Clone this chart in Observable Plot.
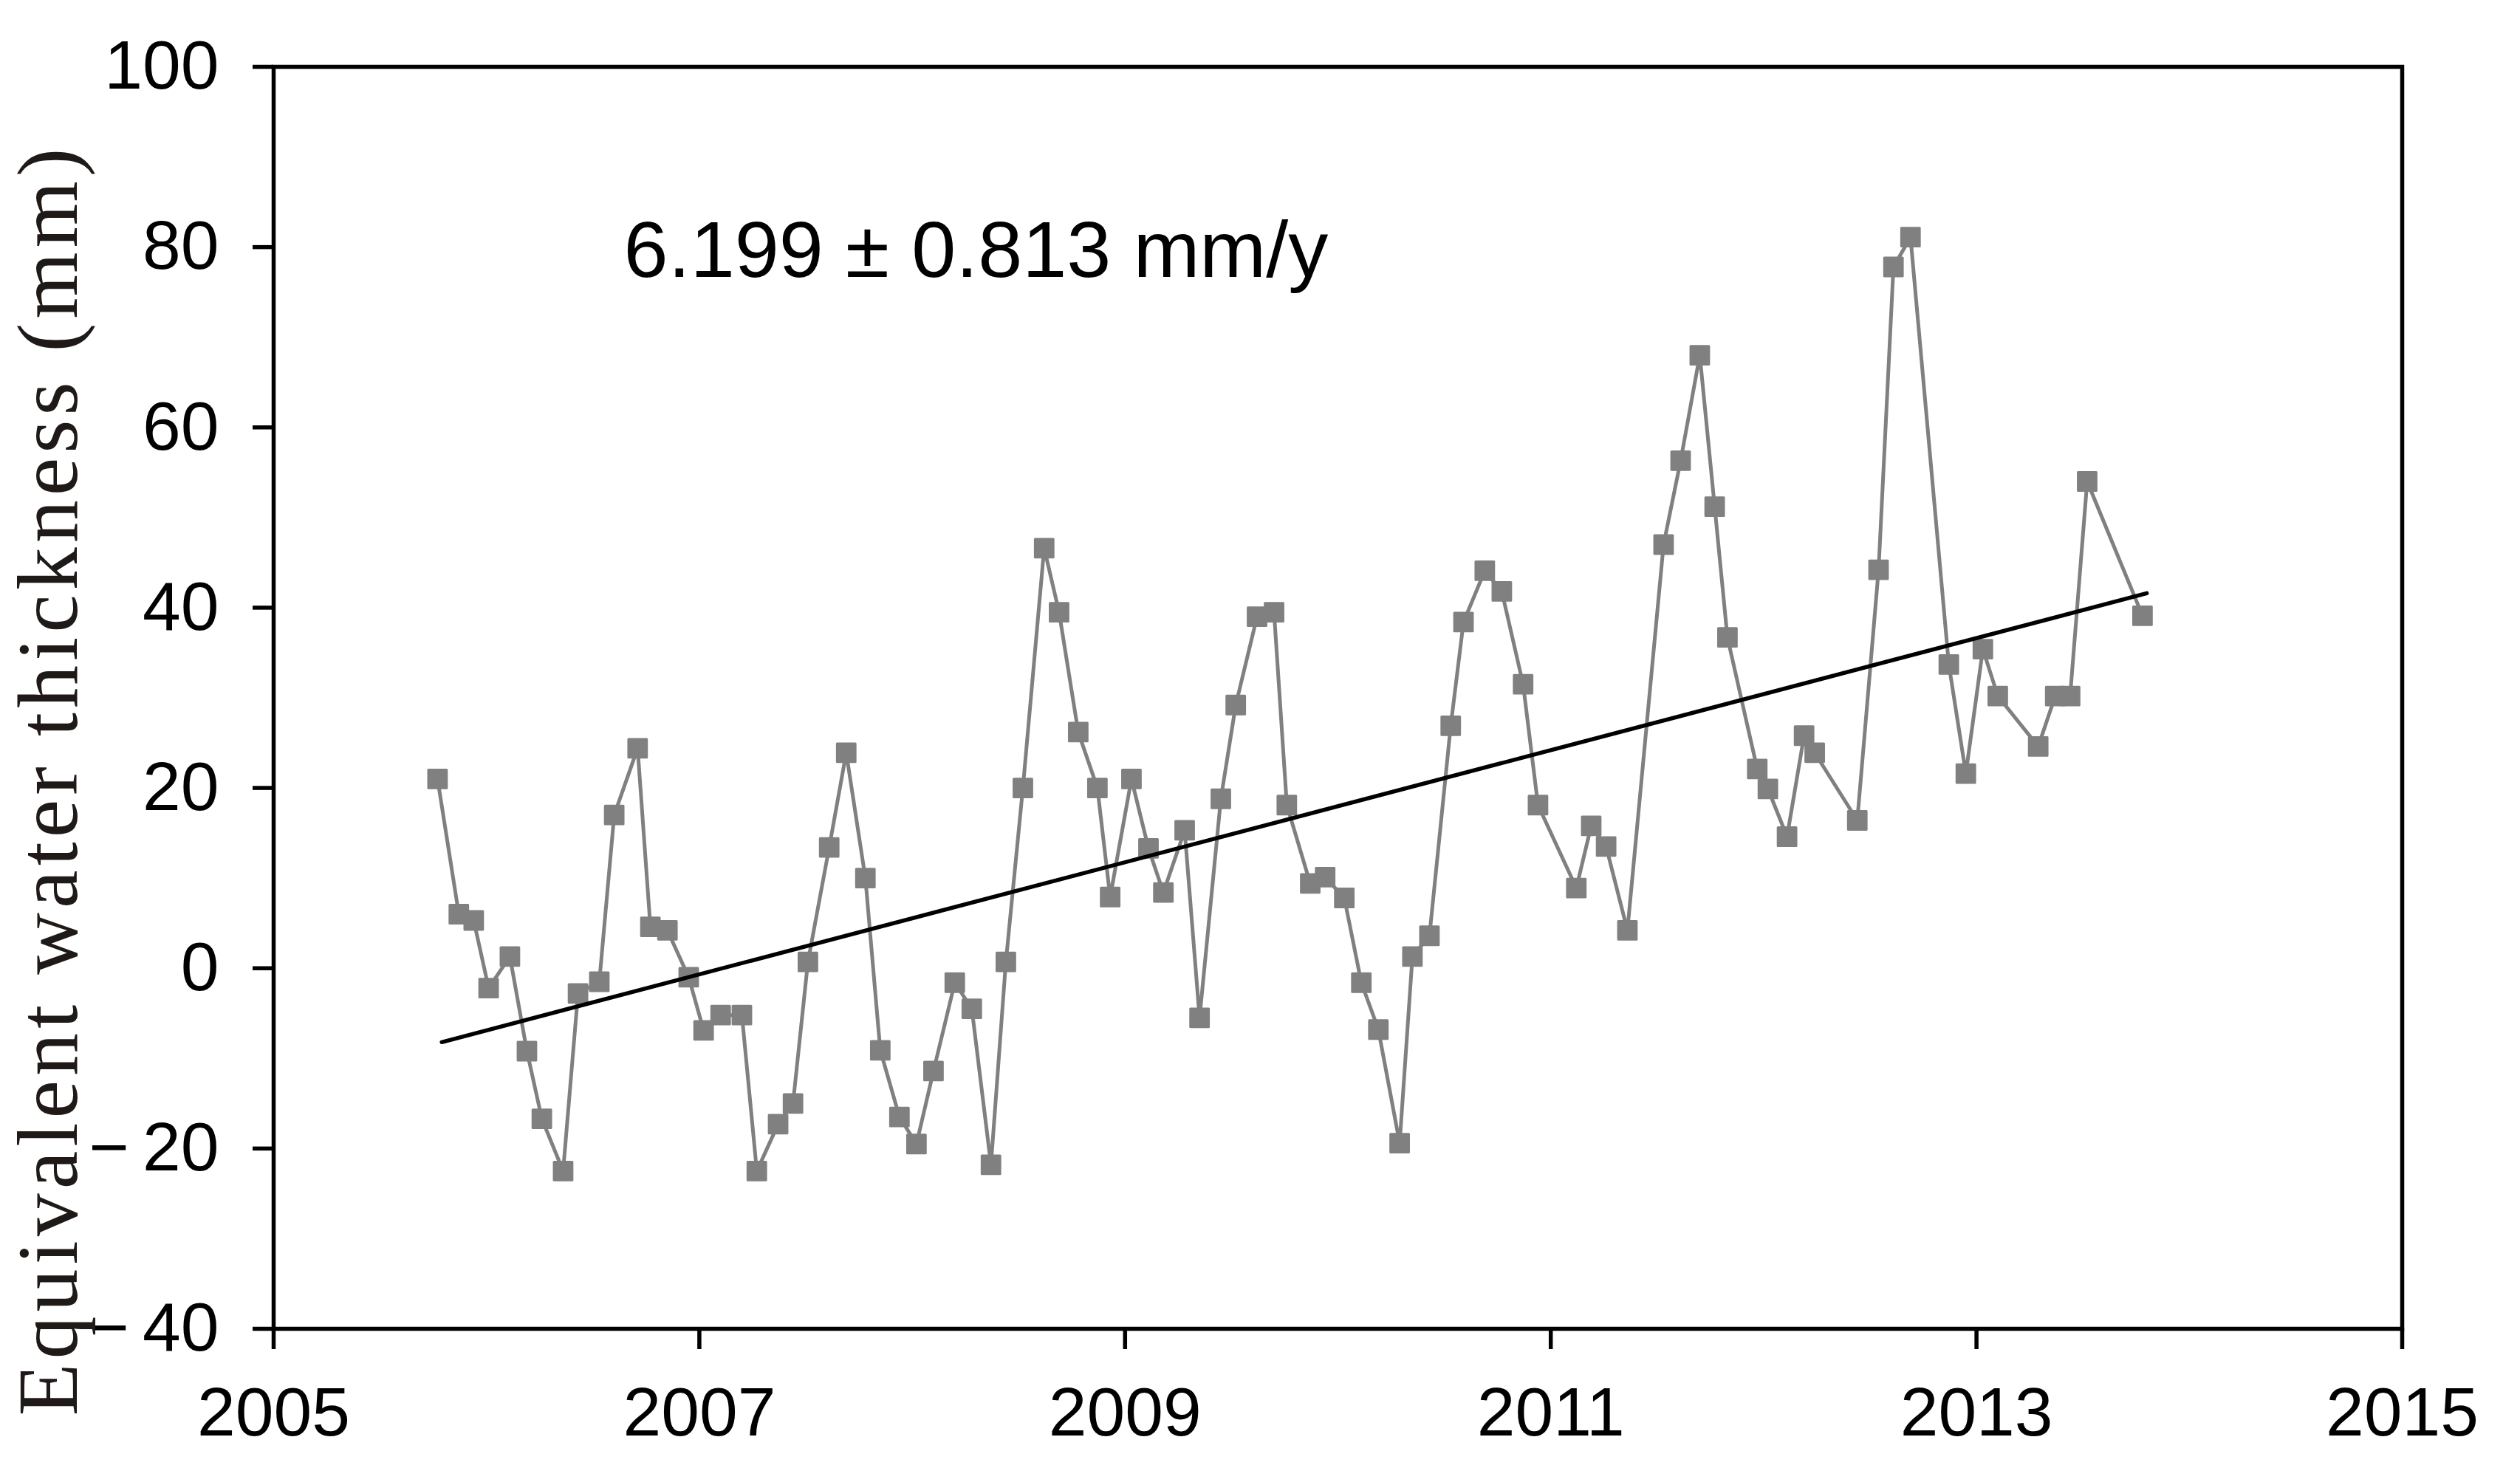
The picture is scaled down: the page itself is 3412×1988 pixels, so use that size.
<!DOCTYPE html>
<html>
<head>
<meta charset="utf-8">
<script src="https://cdn.jsdelivr.net/npm/d3@7"></script>
<script src="https://cdn.jsdelivr.net/npm/@observablehq/plot@0.6"></script>
<style>
  html, body { margin: 0; padding: 0; background: #fff; }
  #chart svg { display: block; }
</style>
</head>
<body>
<div id="chart"></div>
<script>
// Decimal-year time stamps of the monthly observations
const years = [
  2005.77, 2005.87, 2005.94, 2006.01, 2006.11, 2006.19, 2006.26, 2006.36, 2006.43, 2006.53,
  2006.60, 2006.71, 2006.77, 2006.85, 2006.95, 2007.02, 2007.10, 2007.20, 2007.27, 2007.37,
  2007.44, 2007.51, 2007.61, 2007.69, 2007.78, 2007.85, 2007.94, 2008.02, 2008.10, 2008.20,
  2008.28, 2008.37, 2008.44, 2008.52, 2008.62, 2008.69, 2008.78, 2008.87, 2008.93, 2009.03,
  2009.11, 2009.18, 2009.28, 2009.35, 2009.45, 2009.52, 2009.62, 2009.70, 2009.76, 2009.87,
  2009.94, 2010.03, 2010.11, 2010.19, 2010.29, 2010.35, 2010.43, 2010.53, 2010.59, 2010.69,
  2010.77, 2010.87, 2010.94, 2011.12, 2011.19, 2011.26, 2011.36, 2011.53, 2011.61, 2011.70,
  2011.77, 2011.83, 2011.97, 2012.02, 2012.11, 2012.19, 2012.24, 2012.44, 2012.54, 2012.61,
  2012.69, 2012.87, 2012.95, 2013.03, 2013.10, 2013.29, 2013.37, 2013.44, 2013.52, 2013.78
];
// Equivalent water thickness (mm)
const ewt = [
  21, 6, 5.3, -2.2, 1.3, -9.2, -16.7, -22.5, -2.8, -1.5,
  17, 24.4, 4.6, 4.2, -1, -6.9, -5.2, -5.2, -22.5, -17.3,
  -15, 0.7, 13.4, 23.9, 10, -9.1, -16.5, -19.5, -11.4, -1.6,
  -4.5, -21.8, 0.7, 20, 46.6, 39.5, 26.2, 20, 7.9, 21,
  13.3, 8.4, 15.3, -5.5, 18.8, 29.2, 39, 39.5, 18.1, 9.4,
  10.1, 7.8, -1.6, -6.8, -19.4, 1.3, 3.6, 26.9, 38.4, 44.1,
  41.8, 31.5, 18.1, 8.9, 15.8, 13.5, 4.2, 47, 56.3, 68,
  51.2, 36.7, 22.1, 19.9, 14.6, 25.8, 23.9, 16.4, 44.2, 77.8,
  81.1, 33.7, 21.6, 35.4, 30.2, 24.6, 30.2, 30.2, 54, 39.1
];
// Linear trend end points
const trendYears = [2005.79, 2013.80];
const trendValues = [-8.2, 41.6];

const xTicks = [2005, 2007, 2009, 2011, 2013, 2015];
const yTicks = [-40, -20, 0, 20, 40, 60, 80, 100];
const annotation = "6.199 \u00b1 0.813 mm/y";
const yLabel = "Equivalent water thickness (mm)";

const series = years.map((t, i) => ({t, v: ewt[i]}));
const trend = trendYears.map((t, i) => ({t, v: trendValues[i]}));

const chart = Plot.plot({
  width: 3412,
  height: 1988,
  marginLeft: 370,
  marginRight: 160,
  marginTop: 90,
  marginBottom: 189,
  x: {domain: [2005, 2015]},
  y: {domain: [-40, 100]},
  style: {fontFamily: "'Liberation Sans', Arial, sans-serif", background: "white", color: "black", overflow: "visible"},
  marks: [
    Plot.axisX({ticks: xTicks, tickFormat: d => String(d), tickSize: 28, tickPadding: 50,
      stroke: "black", strokeWidth: 5.5, fontSize: 93, fill: "black", label: null}),
    Plot.axisY({ticks: yTicks, tickFormat: d => d < 0 ? "\u2212\u2009" + (-d) : String(d),
      tickSize: 28, tickPadding: 46, stroke: "black", strokeWidth: 5.5, fontSize: 93, fill: "black", label: null}),
    Plot.frame({stroke: "black", strokeWidth: 5.5}),
    Plot.line(series, {x: "t", y: "v", stroke: "#808080", strokeWidth: 5}),
    Plot.dot(series, {x: "t", y: "v", symbol: "square", r: 14, fill: "#808080",
      stroke: "#808080", strokeWidth: 3, strokeLinejoin: "round"}),
    Plot.line(trend, {x: "t", y: "v", stroke: "black", strokeWidth: 5.5}),
    Plot.text([annotation], {x: () => 2006.645, y: () => 76.7, text: d => d, textAnchor: "start",
      lineAnchor: "bottom", fontSize: 108, fill: "black"}),
    Plot.text([yLabel], {text: d => d, frameAnchor: "left", textAnchor: "middle", rotate: -90, dx: -267, dy: 111,
      lineAnchor: "bottom", fontFamily: "'Liberation Serif', 'Times New Roman', serif",
      fontSize: 116, fill: "#1f1a17"})
  ]
});

document.getElementById("chart").appendChild(chart);
d3.select(chart).selectAll("text").filter(function() { return this.textContent === yLabel; })
  .attr("letter-spacing", 6);
</script>
</body>
</html>
